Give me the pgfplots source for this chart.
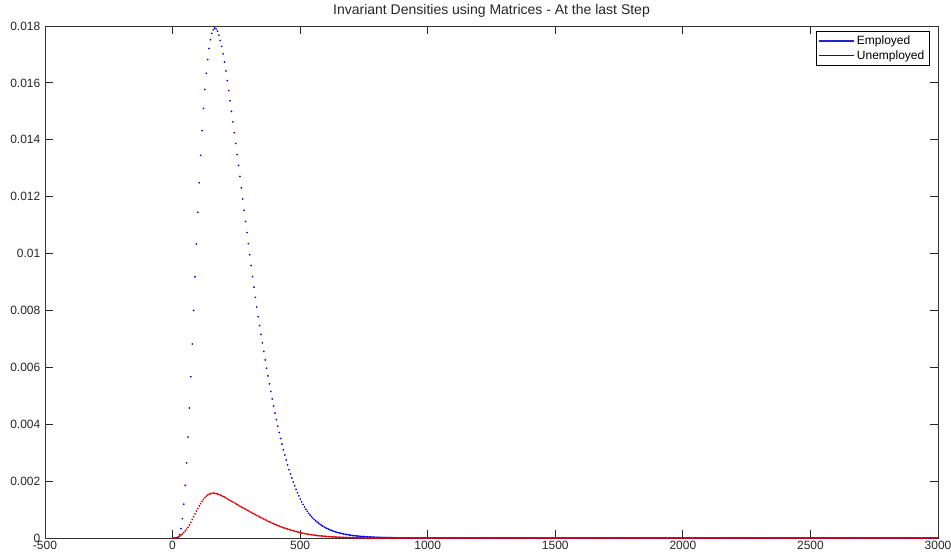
\documentclass[border=0pt]{standalone}
\usepackage{pgfplots}
\usepackage{pgfplotstable}
\pgfplotsset{compat=1.18}
\usepackage{fontspec}
\setmainfont{Liberation Sans}
\definecolor{empdot}{RGB}{0,0,245}
\definecolor{unempdot}{RGB}{225,0,0}
\definecolor{empline}{RGB}{35,35,205}
\definecolor{unempline}{RGB}{20,20,145}
\pgfplotstableread{
x b r
0 0 0
5.5 0 0
11 0 0
16.5 0.000005 0.00001
22 0.00003 0.00003
27.5 0.00012 0.00006
33 0.00033 0.0001
38.5 0.00068 0.00014
44 0.00119 0.00019
49.5 0.00185 0.00025
55 0.00264 0.00031
60.5 0.00355 0.00038
66 0.00457 0.00046
71.5 0.00567 0.00055
77 0.00682 0.00065
82.5 0.00800 0.00075
88 0.00918 0.00085
93.5 0.01034 0.00095
99 0.01145 0.00104
104.5 0.01249 0.00113
110 0.01345 0.00121
115.5 0.01432 0.00129
121 0.01510 0.00136
126.5 0.01577 0.00142
132 0.01634 0.00147
137.5 0.01682 0.00151
143 0.01721 0.00154
148.5 0.01752 0.00156
154 0.01774 0.00157
159.5 0.01787 0.00158
165 0.01793 0.00157
170.5 0.01790 0.00156
176 0.01782 0.00155
181.5 0.01768 0.00153
187 0.01749 0.00151
192.5 0.01728 0.00149
198 0.01702 0.00146
203.5 0.01673 0.00144
209 0.01642 0.00141
214.5 0.01608 0.00138
220 0.01573 0.00135
225.5 0.01537 0.00132
231 0.01500 0.00129
236.5 0.01463 0.00127
242 0.01425 0.00124
247.5 0.01387 0.00121
253 0.01348 0.00118
258.5 0.01310 0.00115
264 0.01271 0.00112
269.5 0.01231 0.00109
275 0.01192 0.00107
280.5 0.01152 0.00104
286 0.01113 0.00101
291.5 0.01074 0.00098
297 0.01035 0.00096
302.5 0.00996 0.00093
308 0.00958 0.00090
313.5 0.00919 0.00087
319 0.00882 0.00085
324.5 0.00846 0.00082
330 0.00812 0.00079
335.5 0.00778 0.00077
341 0.00747 0.00074
346.5 0.00716 0.00072
352 0.00686 0.00069
357.5 0.00656 0.00067
363 0.00626 0.00064
368.5 0.00597 0.00062
374 0.00570 0.00059
379.5 0.00542 0.00057
385 0.00515 0.00055
390.5 0.00489 0.00052
396 0.00464 0.00050
401.5 0.00439 0.00048
407 0.00416 0.00046
412.5 0.00393 0.00044
418 0.00371 0.00042
423.5 0.00350 0.00040
429 0.00330 0.00038
434.5 0.00310 0.00036
440 0.00292 0.00035
445.5 0.00274 0.000333
451 0.00257 0.000316
456.5 0.00240 0.0003
462 0.00225 0.000284
467.5 0.00211 0.000269
473 0.00197 0.000254
478.5 0.00184 0.00024
484 0.00171 0.000227
489.5 0.00159 0.000214
495 0.00148 0.000202
500.5 0.00137 0.00019
506 0.00127 0.000179
511.5 0.00118 0.000168
517 0.00109 0.000158
522.5 0.00101 0.000148
528 0.00094 0.000139
533.5 0.00087 0.00013
539 0.00081 0.000122
544.5 0.00075 0.000114
550 0.00070 0.000107
555.5 0.00065 0.0001
561 0.000605 0.000093
566.5 0.000563 0.000087
572 0.000523 0.000081
577.5 0.000486 0.000076
583 0.000452 0.000071
588.5 0.00042 0.000066
594 0.00039 0.000061
599.5 0.000363 0.000057
605 0.000338 0.000053
610.5 0.000314 0.000049
616 0.000292 0.000046
621.5 0.000272 0.000043
627 0.000253 0.00004
632.5 0.000235 0.000037
638 0.000218 0.000034
643.5 0.000203 0.000032
649 0.000189 0.00003
654.5 0.000176 0.000028
660 0.000163 0.000026
665.5 0.000152 0.000024
671 0.000141 0.000022
676.5 0.000131 0.00002
682 0.000122 0.000019
687.5 0.000113 0.000018
693 0.000105 0.000016
698.5 0.000098 0.000015
704 0.000091 0.000014
709.5 0.000085 0.000013
715 0.000079 0.000012
720.5 0.000073 0.000011
726 0.000068 0.00001
731.5 0.000063 0.000009
737 0.000059 0.000009
742.5 0.000055 0.000008
748 0.000051 0.000007
753.5 0.000047 0.000007
759 0.000044 0.000006
764.5 0.000041 0.000006
770 0.000038 0.000005
775.5 0.000035 0.000005
781 0.000033 0
786.5 0.00003 0
792 0.000028 0
797.5 0.000026 0
803 0.000024 0
808.5 0.000023 0
814 0.000021 0
819.5 0.00002 0
825 0.000018 0
830.5 0.000017 0
836 0.000016 0
841.5 0.000015 0
847 0.000014 0
852.5 0.000013 0
858 0.000012 0
863.5 0.000011 0
869 0.00001 0
874.5 0.000009 0
880 0.000009 0
885.5 0 0
891 0 0
896.5 0 0
902 0 0
907.5 0 0
913 0 0
918.5 0 0
924 0 0
929.5 0 0
935 0 0
940.5 0 0
946 0 0
951.5 0 0
957 0 0
962.5 0 0
968 0 0
973.5 0 0
979 0 0
984.5 0 0
990 0 0
995.5 0 0
1001 0 0
1006.5 0 0
1012 0 0
1017.5 0 0
1023 0 0
1028.5 0 0
1034 0 0
1039.5 0 0
1045 0 0
1050.5 0 0
1056 0 0
1061.5 0 0
1067 0 0
1072.5 0 0
1078 0 0
1083.5 0 0
1089 0 0
1094.5 0 0
1100 0 0
1105.5 0 0
1111 0 0
1116.5 0 0
1122 0 0
1127.5 0 0
1133 0 0
1138.5 0 0
1144 0 0
1149.5 0 0
1155 0 0
1160.5 0 0
1166 0 0
1171.5 0 0
1177 0 0
1182.5 0 0
1188 0 0
1193.5 0 0
1199 0 0
1204.5 0 0
1210 0 0
1215.5 0 0
1221 0 0
1226.5 0 0
1232 0 0
1237.5 0 0
1243 0 0
1248.5 0 0
1254 0 0
1259.5 0 0
1265 0 0
1270.5 0 0
1276 0 0
1281.5 0 0
1287 0 0
1292.5 0 0
1298 0 0
1303.5 0 0
1309 0 0
1314.5 0 0
1320 0 0
1325.5 0 0
1331 0 0
1336.5 0 0
1342 0 0
1347.5 0 0
1353 0 0
1358.5 0 0
1364 0 0
1369.5 0 0
1375 0 0
1380.5 0 0
1386 0 0
1391.5 0 0
1397 0 0
1402.5 0 0
1408 0 0
1413.5 0 0
1419 0 0
1424.5 0 0
1430 0 0
1435.5 0 0
1441 0 0
1446.5 0 0
1452 0 0
1457.5 0 0
1463 0 0
1468.5 0 0
1474 0 0
1479.5 0 0
1485 0 0
1490.5 0 0
1496 0 0
1501.5 0 0
1507 0 0
1512.5 0 0
1518 0 0
1523.5 0 0
1529 0 0
1534.5 0 0
1540 0 0
1545.5 0 0
1551 0 0
1556.5 0 0
1562 0 0
1567.5 0 0
1573 0 0
1578.5 0 0
1584 0 0
1589.5 0 0
1595 0 0
1600.5 0 0
1606 0 0
1611.5 0 0
1617 0 0
1622.5 0 0
1628 0 0
1633.5 0 0
1639 0 0
1644.5 0 0
1650 0 0
1655.5 0 0
1661 0 0
1666.5 0 0
1672 0 0
1677.5 0 0
1683 0 0
1688.5 0 0
1694 0 0
1699.5 0 0
1705 0 0
1710.5 0 0
1716 0 0
1721.5 0 0
1727 0 0
1732.5 0 0
1738 0 0
1743.5 0 0
1749 0 0
1754.5 0 0
1760 0 0
1765.5 0 0
1771 0 0
1776.5 0 0
1782 0 0
1787.5 0 0
1793 0 0
1798.5 0 0
1804 0 0
1809.5 0 0
1815 0 0
1820.5 0 0
1826 0 0
1831.5 0 0
1837 0 0
1842.5 0 0
1848 0 0
1853.5 0 0
1859 0 0
1864.5 0 0
1870 0 0
1875.5 0 0
1881 0 0
1886.5 0 0
1892 0 0
1897.5 0 0
1903 0 0
1908.5 0 0
1914 0 0
1919.5 0 0
1925 0 0
1930.5 0 0
1936 0 0
1941.5 0 0
1947 0 0
1952.5 0 0
1958 0 0
1963.5 0 0
1969 0 0
1974.5 0 0
1980 0 0
1985.5 0 0
1991 0 0
1996.5 0 0
2002 0 0
2007.5 0 0
2013 0 0
2018.5 0 0
2024 0 0
2029.5 0 0
2035 0 0
2040.5 0 0
2046 0 0
2051.5 0 0
2057 0 0
2062.5 0 0
2068 0 0
2073.5 0 0
2079 0 0
2084.5 0 0
2090 0 0
2095.5 0 0
2101 0 0
2106.5 0 0
2112 0 0
2117.5 0 0
2123 0 0
2128.5 0 0
2134 0 0
2139.5 0 0
2145 0 0
2150.5 0 0
2156 0 0
2161.5 0 0
2167 0 0
2172.5 0 0
2178 0 0
2183.5 0 0
2189 0 0
2194.5 0 0
2200 0 0
2205.5 0 0
2211 0 0
2216.5 0 0
2222 0 0
2227.5 0 0
2233 0 0
2238.5 0 0
2244 0 0
2249.5 0 0
2255 0 0
2260.5 0 0
2266 0 0
2271.5 0 0
2277 0 0
2282.5 0 0
2288 0 0
2293.5 0 0
2299 0 0
2304.5 0 0
2310 0 0
2315.5 0 0
2321 0 0
2326.5 0 0
2332 0 0
2337.5 0 0
2343 0 0
2348.5 0 0
2354 0 0
2359.5 0 0
2365 0 0
2370.5 0 0
2376 0 0
2381.5 0 0
2387 0 0
2392.5 0 0
2398 0 0
2403.5 0 0
2409 0 0
2414.5 0 0
2420 0 0
2425.5 0 0
2431 0 0
2436.5 0 0
2442 0 0
2447.5 0 0
2453 0 0
2458.5 0 0
2464 0 0
2469.5 0 0
2475 0 0
2480.5 0 0
2486 0 0
2491.5 0 0
2497 0 0
2502.5 0 0
2508 0 0
2513.5 0 0
2519 0 0
2524.5 0 0
2530 0 0
2535.5 0 0
2541 0 0
2546.5 0 0
2552 0 0
2557.5 0 0
2563 0 0
2568.5 0 0
2574 0 0
2579.5 0 0
2585 0 0
2590.5 0 0
2596 0 0
2601.5 0 0
2607 0 0
2612.5 0 0
2618 0 0
2623.5 0 0
2629 0 0
2634.5 0 0
2640 0 0
2645.5 0 0
2651 0 0
2656.5 0 0
2662 0 0
2667.5 0 0
2673 0 0
2678.5 0 0
2684 0 0
2689.5 0 0
2695 0 0
2700.5 0 0
2706 0 0
2711.5 0 0
2717 0 0
2722.5 0 0
2728 0 0
2733.5 0 0
2739 0 0
2744.5 0 0
2750 0 0
2755.5 0 0
2761 0 0
2766.5 0 0
2772 0 0
2777.5 0 0
2783 0 0
2788.5 0 0
2794 0 0
2799.5 0 0
2805 0 0
2810.5 0 0
2816 0 0
2821.5 0 0
2827 0 0
2832.5 0 0
2838 0 0
2843.5 0 0
2849 0 0
2854.5 0 0
2860 0 0
2865.5 0 0
2871 0 0
2876.5 0 0
2882 0 0
2887.5 0 0
2893 0 0
2898.5 0 0
2904 0 0
2909.5 0 0
2915 0 0
2920.5 0 0
2926 0 0
2931.5 0 0
2937 0 0
2942.5 0 0
2948 0 0
2953.5 0 0
2959 0 0
2964.5 0 0
2970 0 0
2975.5 0 0
2981 0 0
2986.5 0 0
2992 0 0
2997.5 0 0
}\datatable
\begin{document}
\begin{tikzpicture}
\begin{axis}[
  name=ax,
  scale only axis,
  width=669.75pt, height=384pt,
  xmin=-500, xmax=3000, ymin=0, ymax=0.018,
  xtick={-500,0,500,1000,1500,2000,2500,3000},
  xticklabels={-500,0,500,1000,1500,2000,2500,3000},
  ytick={0,0.002,0.004,0.006,0.008,0.01,0.012,0.014,0.016,0.018},
  yticklabels={0,0.002,0.004,0.006,0.008,0.01,0.012,0.014,0.016,0.018},
  scaled ticks=false,
  tick align=inside,
  major tick length=6pt,
  tick style={black!85, line width=0.6pt},
  axis line style={black!80, line width=0.6pt},
  ticklabel style={font=\fontsize{9}{10}\selectfont, black!85},
  xticklabel style={yshift=1pt},
  title={Invariant Densities using Matrices - At the last Step},
  title style={at={(0.5,1)}, anchor=base, yshift=2.5pt, inner sep=0pt, font=\fontsize{10.5}{12}\selectfont, black!85},
  clip=false,
  legend style={at={(1,1)}, anchor=north east, xshift=-6pt, yshift=-4pt,
    draw=black, line width=0.5pt, fill=white,
    font=\fontsize{9}{10}\selectfont, inner xsep=2pt, inner ysep=1pt,
    row sep=-1pt,
    nodes={inner sep=2pt},
    /tikz/every even column/.append style={column sep=1pt}},
  legend cell align=left,
]
\addplot[only marks, mark=*, mark size=0.42pt, color=empdot, mark options={draw=none, fill=empdot},
  legend image code/.code={\path[draw=empline, line width=0.85pt] (0pt,0pt) -- (26pt,0pt);}] table[x=x, y=b] {\datatable};
\addlegendentry{Employed}
\addplot[only marks, mark=*, mark size=0.42pt, color=unempdot, mark options={draw=none, fill=unempdot},
  legend image code/.code={\path[draw=unempline, line width=0.85pt] (0pt,0pt) -- (26pt,0pt);}] table[x=x, y=r] {\datatable};
\addlegendentry{Unemployed}
\end{axis}
\pgfresetboundingbox
\path[use as bounding box] ([xshift=-33.75pt,yshift=-15pt]ax.south west) rectangle ([xshift=9.75pt,yshift=19.5pt]ax.north east);
\end{tikzpicture}
\end{document}
